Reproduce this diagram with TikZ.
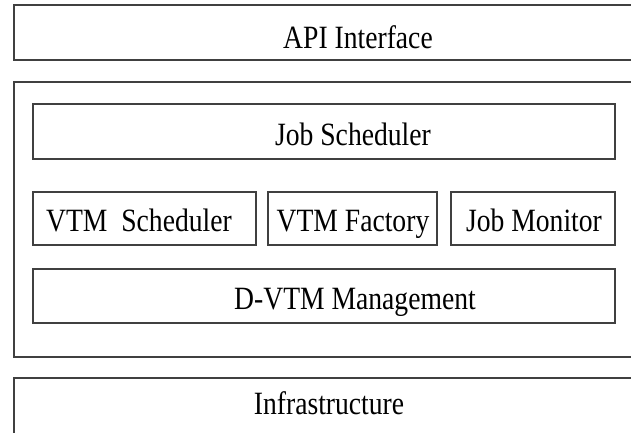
\documentclass[tikz,border=0pt]{standalone}
\usepackage{fontspec}
\setmainfont{Liberation Serif}[FakeStretch=0.85]
\begin{document}
\begin{tikzpicture}[x=1pt,y=-1pt,
  layer/.style={draw=black!75, line width=1.6pt, fill=none},
  module/.style={draw=black!75, line width=1.3pt, fill=none},
  lbl/.style={anchor=base, inner sep=0pt, font=\fontsize{32.5}{34}\selectfont, text=black}]
  \useasboundingbox (0,0) rectangle (631,432);
  \clip (0,0) rectangle (631,432);
  % outer layers (they run past the right and bottom edges)
  \draw[layer] (14,5) rectangle (660,60);
  \draw[layer] (14,82) rectangle (660,357);
  \draw[layer] (14,378) rectangle (660,460);
  % inner modules
  \draw[module] (33,104) rectangle (615,159);
  \draw[module] (33,192) rectangle (256,245);
  \draw[module] (268,192) rectangle (437,245);
  \draw[module] (451,192) rectangle (615,245);
  \draw[module] (33,269) rectangle (615,323);
  % labels
  \node[lbl] (api)   at (358,48)  {API Interface};
  \node[lbl] (jobs)  at (353,145) {Job Scheduler};
  \node[lbl] (vtms)  at (139,231) {VTM\ \ Scheduler};
  \node[lbl] (vtmf)  at (353,231) {VTM Factory};
  \node[lbl] (jobm)  at (534,231) {Job Monitor};
  \node[lbl] (dvtm)  at (355,309) {D-VTM Management};
  \node[lbl] (infra) at (329,414) {Infrastructure};
\end{tikzpicture}
\end{document}
